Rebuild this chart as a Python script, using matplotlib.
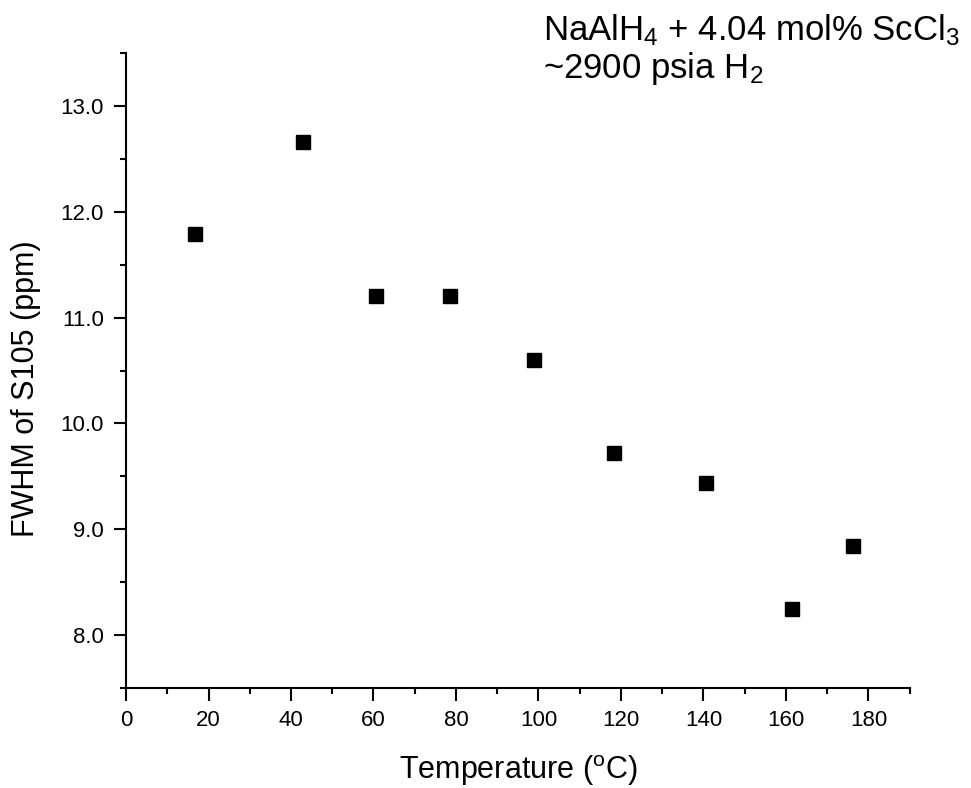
import numpy as np
import matplotlib.pyplot as plt
from matplotlib.ticker import MultipleLocator, FormatStrFormatter

plt.rcParams['font.family'] = ['Liberation Sans', 'DejaVu Sans']
plt.rcParams['mathtext.fontset'] = 'custom'
plt.rcParams['mathtext.rm'] = 'Liberation Sans'
plt.rcParams['mathtext.it'] = 'Liberation Sans:italic'

# data
temperature = [16.7, 42.8, 60.7, 78.6, 98.9, 118.3, 140.7, 161.5, 176.3]
fwhm = [11.79, 12.66, 11.20, 11.20, 10.60, 9.72, 9.44, 8.25, 8.84]

fig = plt.figure(figsize=(9.71, 7.88), dpi=100)
ax = fig.add_axes([0.1298, 0.1269, 0.807, 0.8058])

ax.plot(temperature, fwhm, 's', color='black', markersize=9.5, linestyle='none')

ax.set_xlim(0, 190)
ax.set_ylim(7.5, 13.5)
ax.xaxis.set_major_locator(MultipleLocator(20))
ax.xaxis.set_minor_locator(MultipleLocator(10))
ax.yaxis.set_major_locator(MultipleLocator(1))
ax.yaxis.set_minor_locator(MultipleLocator(0.5))
ax.yaxis.set_major_formatter(FormatStrFormatter('%.1f'))

for s in ['top', 'right']:
    ax.spines[s].set_visible(False)
for s in ['left', 'bottom']:
    ax.spines[s].set_linewidth(1.5)
ax.tick_params(which='major', direction='out', length=9, width=1.5, labelsize=16, pad=7)
ax.tick_params(which='minor', direction='out', length=4.5, width=1.5)

ax.set_xlabel('Temperature ($^{\\rm o}$C)', fontsize=22, labelpad=16)
ax.set_ylabel('FWHM of S105 (ppm)', fontsize=22, labelpad=14)
ax.yaxis.label.set_y(0.472)

fig.text(0.559, 0.949, 'NaAlH$_4$ + 4.04 mol% ScCl$_3$', fontsize=25, va='baseline')
fig.text(0.559, 0.901, '~2900 psia H$_2$', fontsize=25, va='baseline')

fig.savefig('out.png', dpi=100)
